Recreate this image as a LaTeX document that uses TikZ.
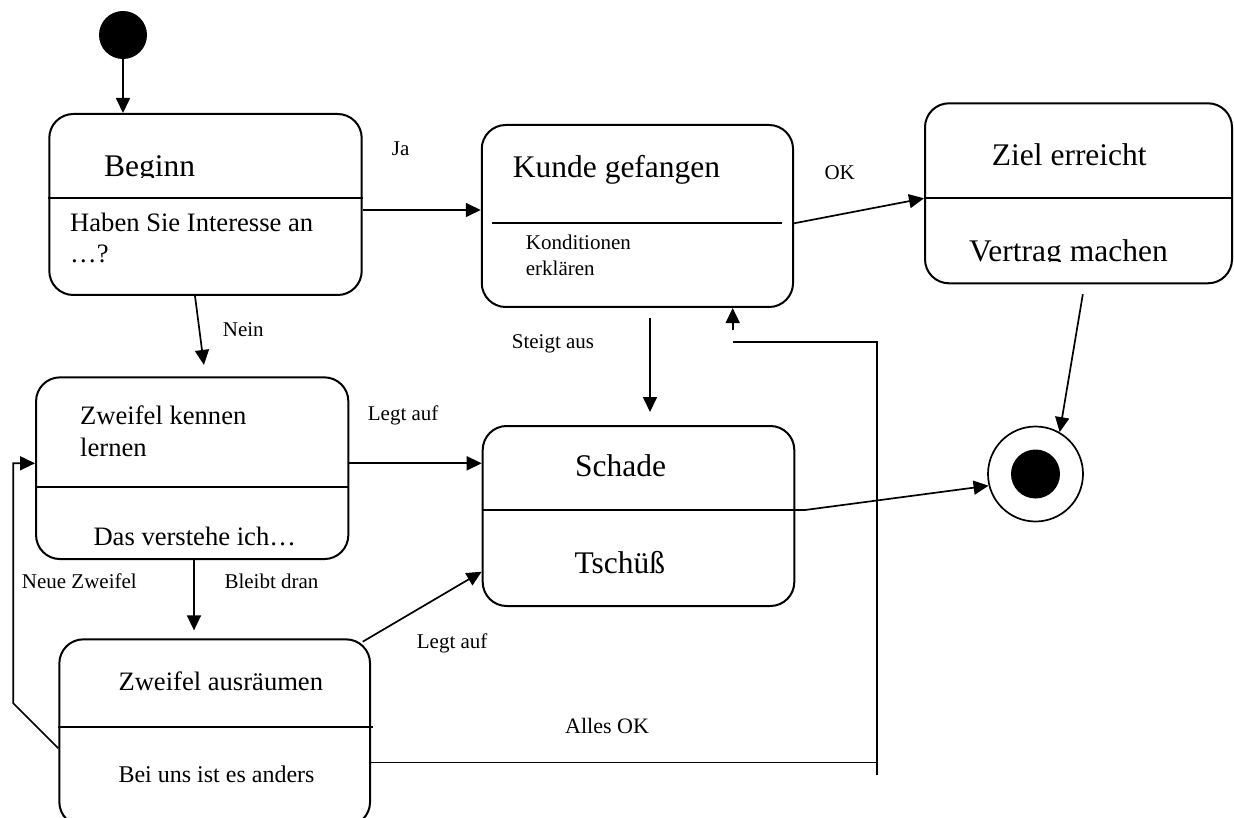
\documentclass[tikz,border=0pt]{standalone}
\usepackage{fontspec}
\setmainfont{Liberation Serif}
\usetikzlibrary{arrows.meta}
\begin{document}
\begin{tikzpicture}[x=1pt,y=-1pt,
  statebox/.style={draw, line width=2pt, rounded corners=24pt, inner sep=0pt},
  arr/.style={line width=1.7pt, -{Triangle[length=15pt,width=14pt]}},
  conn/.style={line width=1.7pt},
  divider/.style={line width=2pt},
  txt/.style={anchor=base west, inner sep=0pt},
  big/.style={txt, font=\fontsize{31.5}{36}\selectfont},
  mid/.style={txt, font=\fontsize{26.6}{30}\selectfont},
  midsmall/.style={txt, font=\fontsize{24}{28}\selectfont},
  small/.style={txt, font=\fontsize{21}{24}\selectfont},
]
\useasboundingbox (0,0) rectangle (1234,818);

% pseudo states
\node[fill, circle, minimum size=48pt, inner sep=0pt] (start) at (123,35) {};
\node[draw, circle, line width=1.7pt, minimum size=95pt, inner sep=0pt] (end) at (1035.5,474) {};
\node[fill, circle, minimum size=49pt, inner sep=0pt] (endcore) at (end.center) {};

% states
\node[statebox, minimum width=312.4pt, minimum height=181pt] (beginn) at (205.5,204.5) {};
\node[statebox, minimum width=311.3pt, minimum height=182pt] (kunde) at (637.4,216) {};
\node[statebox, minimum width=307pt, minimum height=180pt] (ziel) at (1078.5,193.3) {};
\node[statebox, minimum width=312.3pt, minimum height=181.7pt] (zk) at (192.2,468.2) {};
\node[statebox, minimum width=311.6pt, minimum height=180pt] (schade) at (638.5,516) {};
\node[statebox, minimum width=310.7pt, minimum height=186.7pt] (za) at (214.7,732.7) {};

% compartment dividers
\draw[divider] (beginn.west |- 0,198) -- (beginn.east |- 0,198);
\draw[divider] (491.7,222.7) -- (781.7,222.7);
\draw[divider] (ziel.west |- 0,198.3) -- (ziel.east |- 0,198.3);
\draw[divider] (zk.west |- 0,486.7) -- (zk.east |- 0,486.7);
\coordinate (schdiv) at (805,510);
\draw[divider] (schade.west |- schdiv) -- (schdiv);
\draw[divider] (za.west |- 0,726.7) -- (373.3,726.7);

% state texts
\begin{scope}
  \clip (52,120) rectangle (358,178);
  \node[big] (tbeginn) at (104,177) {Beginn};
\end{scope}
\node[mid] (tbeginn1) at (70,232) {Haben Sie Interesse an};
\node[mid] (tbeginn2) at (70,263) {…?};

\node[big] (tkunde) at (512.7,178) {Kunde gefangen};
\node[small] (tkunde1) at (525.7,250) {Konditionen};
\node[small] (tkunde2) at (525.7,275.7) {erklären};

\node[big] (tziel) at (991.7,166) {Ziel erreicht};
\begin{scope}
  \clip (930,205) rectangle (1228,262);
  \node[big] (tziel1) at (969,261.7) {Vertrag machen};
\end{scope}

\node[mid] (tzk) at (80,424.3) {Zweifel kennen};
\node[mid] (tzk1) at (80,456) {lernen};
\node[mid] (tzk2) at (93.3,545) {Das verstehe ich…};

\node[big] (tschade) at (575,476.7) {Schade};
\node[big] (tschade1) at (574.3,573) {Tschüß};

\node[mid] (tza) at (118.3,690) {Zweifel ausräumen};
\node[midsmall] (tza1) at (118.3,782.7) {Bei uns ist es anders};

% transitions
\draw[arr] (start) -- (start |- beginn.north);
\draw[arr] (beginn.east |- 0,210) -- (kunde.west |- 0,210);
\draw[arr] (kunde.east |- 0,223.3) -- (ziel.west |- 0,198.3);
\draw[arr, shorten <=10pt] (ziel.south -| 1084.5,0) -- (end.60);
\draw[arr, shorten >=11.5pt] (beginn.south -| 195,0) -- (zk.north -| 205.4,0);
\draw[arr, shorten <=10pt, shorten >=13pt] (kunde.south -| 650,0) -- (schade.north -| 650,0);
\draw[arr] (zk.east |- 0,463.3) -- (schade.west |- 0,463.3);
\draw[arr, shorten >=8pt] (zk.south -| 194,0) -- (za.north -| 194,0);
\coordinate (zaout) at (362.7,641.7);
\draw[arr] (zaout) -- (schade.west |- 0,571.7);
\draw[arr] (za.west |- 0,748.3) -- (13.3,703.3) |- (zk.west |- 0,463.3);
\coordinate (okturn) at (732.7,342.3);
\draw[conn] (za.east |- 0,762.5) -- (877,762.5);
\draw[conn] (877,775) |- (okturn);
\draw[arr, shorten <=12pt] (okturn) -- (kunde.south -| okturn);
\draw[arr] (schdiv) -- (end.194);

% transition labels
\node[small] (lja) at (391.7,156) {Ja};
\node[small] (lok) at (824.3,180) {OK};
\node[small] (lnein) at (222.7,336) {Nein};
\node[small] (llegt1) at (367.7,420) {Legt auf};
\node[small] (lsteigt) at (511.7,348.3) {Steigt aus};
\node[small] (lneue) at (21.7,588) {Neue Zweifel};
\node[small] (lbleibt) at (224.3,588) {Bleibt dran};
\node[small] (llegt2) at (416.7,648.3) {Legt auf};
\node[txt, font=\fontsize{22}{26}\selectfont] (lalles) at (565,733) {Alles OK};
\end{tikzpicture}
\end{document}
